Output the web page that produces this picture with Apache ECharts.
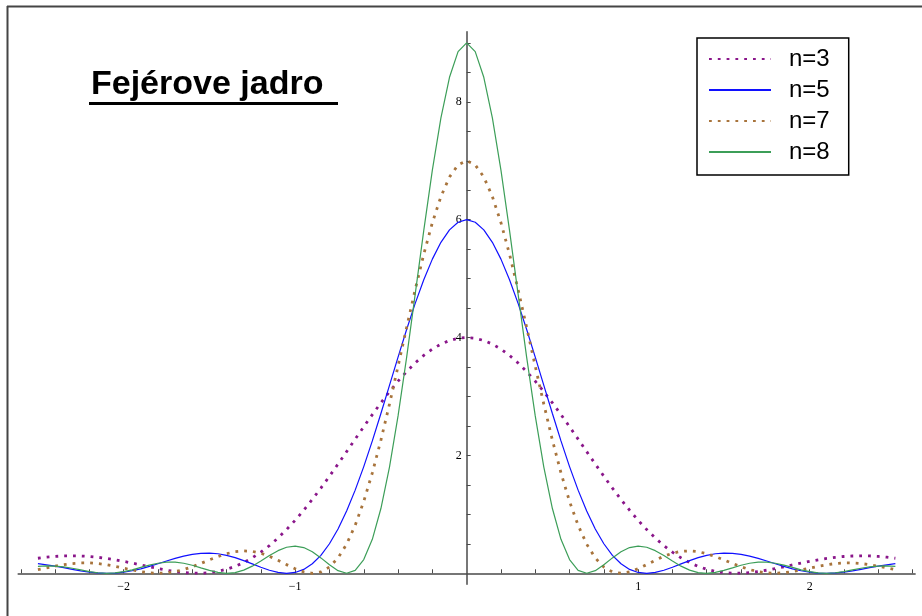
<!DOCTYPE html>
<html>
<head>
<meta charset="utf-8">
<script src="https://cdn.jsdelivr.net/npm/echarts@6/dist/echarts.min.js"></script>
<style>html,body{margin:0;padding:0;background:#fff;}#c{width:922px;height:616px;}</style>
</head>
<body>
<div id="c"></div>
<script>
// x sample positions
const xs = [-2.5,-2.45,-2.4,-2.35,-2.3,-2.25,-2.2,-2.15,-2.1,-2.05,-2,-1.95,-1.9,-1.85,-1.8,-1.75,-1.7,-1.65,-1.6,-1.55,-1.5,-1.45,-1.4,-1.35,-1.3,-1.25,-1.2,-1.15,-1.1,-1.05,-1,-0.95,-0.9,-0.85,-0.8,-0.75,-0.7,-0.65,-0.6,-0.55,-0.5,-0.45,-0.4,-0.35,-0.3,-0.25,-0.2,-0.15,-0.1,-0.05,0,0.05,0.1,0.15,0.2,0.25,0.3,0.35,0.4,0.45,0.5,0.55,0.6,0.65,0.7,0.75,0.8,0.85,0.9,0.95,1,1.05,1.1,1.15,1.2,1.25,1.3,1.35,1.4,1.45,1.5,1.55,1.6,1.65,1.7,1.75,1.8,1.85,1.9,1.95,2,2.05,2.1,2.15,2.2,2.25,2.3,2.35,2.4,2.45,2.5];

const n3 = [0.255,0.273,0.286,0.294,0.296,0.293,0.285,0.271,0.252,0.229,0.202,0.173,0.142,0.110,0.080,0.052,0.029,0.012,0.002,0.001,0.011,0.033,0.068,0.117,0.181,0.262,0.358,0.470,0.598,0.742,0.899,1.070,1.253,1.446,1.647,1.854,2.065,2.277,2.487,2.693,2.892,3.082,3.260,3.423,3.569,3.697,3.804,3.889,3.950,3.988,4.000,3.988,3.950,3.889,3.804,3.697,3.569,3.423,3.260,3.082,2.892,2.693,2.487,2.277,2.065,1.854,1.647,1.446,1.253,1.070,0.899,0.742,0.598,0.470,0.358,0.262,0.181,0.117,0.068,0.033,0.011,0.001,0.002,0.012,0.029,0.052,0.080,0.110,0.142,0.173,0.202,0.229,0.252,0.271,0.285,0.293,0.296,0.294,0.286,0.273,0.255];

const n5 = [0.163,0.144,0.121,0.095,0.067,0.042,0.020,0.006,0.000,0.004,0.018,0.043,0.076,0.117,0.162,0.209,0.253,0.292,0.321,0.339,0.343,0.331,0.305,0.265,0.215,0.159,0.102,0.052,0.015,0.000,0.014,0.066,0.161,0.305,0.501,0.752,1.056,1.411,1.810,2.246,2.712,3.188,3.668,4.137,4.580,4.982,5.331,5.616,5.827,5.956,6.000,5.956,5.827,5.616,5.331,4.982,4.580,4.137,3.668,3.188,2.712,2.246,1.810,1.411,1.056,0.752,0.501,0.305,0.161,0.066,0.014,0.000,0.015,0.052,0.102,0.159,0.215,0.265,0.305,0.331,0.343,0.339,0.321,0.292,0.253,0.209,0.162,0.117,0.076,0.043,0.018,0.004,0.000,0.006,0.020,0.042,0.067,0.095,0.121,0.144,0.163];

const n7 = [0.062,0.091,0.120,0.146,0.165,0.175,0.176,0.165,0.145,0.118,0.087,0.056,0.028,0.008,0.000,0.006,0.027,0.063,0.111,0.167,0.227,0.284,0.332,0.366,0.380,0.372,0.340,0.289,0.221,0.147,0.077,0.023,0.000,0.023,0.106,0.260,0.494,0.814,1.219,1.704,2.260,2.870,3.515,4.171,4.813,5.414,5.949,6.392,6.724,6.930,7.000,6.930,6.724,6.392,5.949,5.414,4.813,4.171,3.515,2.870,2.260,1.704,1.219,0.814,0.494,0.260,0.106,0.023,0.000,0.023,0.077,0.147,0.221,0.289,0.340,0.372,0.380,0.366,0.332,0.284,0.227,0.167,0.111,0.063,0.027,0.006,0.000,0.008,0.028,0.056,0.087,0.118,0.145,0.165,0.176,0.175,0.165,0.146,0.120,0.091,0.062];

const n8 = [0.116,0.125,0.123,0.109,0.085,0.057,0.029,0.009,0.000,0.006,0.027,0.059,0.099,0.138,0.170,0.189,0.189,0.170,0.136,0.092,0.049,0.015,0.000,0.012,0.053,0.121,0.208,0.301,0.384,0.442,0.462,0.436,0.365,0.261,0.144,0.044,0.000,0.050,0.232,0.576,1.099,1.803,2.670,3.665,4.737,5.819,6.841,7.728,8.416,8.851,9.000,8.851,8.416,7.728,6.841,5.819,4.737,3.665,2.670,1.803,1.099,0.576,0.232,0.050,0.000,0.044,0.144,0.261,0.365,0.436,0.462,0.442,0.384,0.301,0.208,0.121,0.053,0.012,0.000,0.015,0.049,0.092,0.136,0.170,0.189,0.189,0.170,0.138,0.099,0.059,0.027,0.006,0.000,0.009,0.029,0.057,0.085,0.109,0.123,0.125,0.116];

const seriesNames = ['n=3','n=5','n=7','n=8'];

// axis ticks and labels
const xTicks = [-2.6,-2.4,-2.2,-2,-1.8,-1.6,-1.4,-1.2,-1,-0.8,-0.6,-0.4,-0.2,0.2,0.4,0.6,0.8,1,1.2,1.4,1.6,1.8,2,2.2,2.4,2.6];
const xTickLabels = [-2,-1,1,2];
const yTicks = [0.5,1,1.5,2,2.5,3,3.5,4,4.5,5,5.5,6,6.5,7,7.5,8,8.5,9];
const yTickLabels = [2,4,6,8];

const titleText = 'Fejérove jadro';

const chart = echarts.init(document.getElementById('c'), null, {renderer:'canvas'});

const pairs = arr => xs.map((x, i) => [x, arr[i]]);
const axisCol = '#4a4a4a';
const labelFont = {fontFamily:'Liberation Serif', fontSize:12, color:'#000'};

const xMin = -2.615, xMax = 2.615, yMin = -0.187, yMax = 9.19;
const gridL = 18.2, gridR = 6.9, gridT = 31.7, gridB = 31.7;
const plotW = 922 - gridL - gridR, plotH = 616 - gridT - gridB;
// place axes through the origin with an offset computed from the axis ranges
const yAxisOffset = -plotW * (0 - xMin) / (xMax - xMin);
const xAxisOffset = -plotH * (0 - yMin) / (yMax - yMin);

chart.setOption({
  animation: false,
  backgroundColor: '#fff',
  title: {
    text: titleText, left: 91, top: 68, padding: 0,
    textStyle: {fontFamily:'Liberation Sans', fontSize:34, fontWeight:'bold', color:'#000'}
  },
  legend: {
    data: seriesNames,
    orient: 'vertical', left: 697, top: 38,
    padding: [9, 19, 11, 11],
    borderColor: '#000', borderWidth: 1.5,
    itemWidth: 62, itemHeight: 14, itemGap: 7,
    selectedMode: false,
    itemStyle: {color: 'rgba(0,0,0,0)', borderWidth: 0, opacity: 0},
    textStyle: {fontFamily:'Liberation Sans', fontSize:24, lineHeight:24, color:'#000', padding:[0,0,0,13]}
  },
  grid: {left: gridL, right: gridR, top: gridT, bottom: gridB, containLabel: false},
  xAxis: {
    type: 'value', min: xMin, max: xMax, position: 'bottom', offset: xAxisOffset,
    axisLine: {onZero: false, lineStyle: {color: axisCol, width: 1.5}},
    axisTick: {show: true, inside: true, length: 4, customValues: xTicks, lineStyle:{color: axisCol}},
    axisLabel: Object.assign({customValues: xTickLabels, margin: 8,
      formatter: v => String(v).replace('-', '\u2212')}, labelFont),
    splitLine: {show: false}
  },
  yAxis: {
    type: 'value', min: yMin, max: yMax, position: 'left', offset: yAxisOffset,
    axisLine: {onZero: false, lineStyle: {color: axisCol, width: 1.5}},
    axisTick: {show: true, inside: true, length: 4, customValues: yTicks, lineStyle:{color: axisCol}},
    axisLabel: Object.assign({customValues: yTickLabels, margin: 5}, labelFont),
    splitLine: {show: false}
  },
  series: [
    {name: 'n=3', type: 'line', data: pairs(n3), symbol: 'none', z: 2,
     lineStyle: {color: '#8a168a', width: 2.8, type: [2.8, 6], cap: 'butt'}},
    {name: 'n=5', type: 'line', data: pairs(n5), symbol: 'none', z: 3,
     lineStyle: {color: '#1010ff', width: 1.2}},
    {name: 'n=7', type: 'line', data: pairs(n7), symbol: 'none', z: 4,
     lineStyle: {color: '#a8743c', width: 2.8, type: [2.8, 6], cap: 'butt'}},
    {name: 'n=8', type: 'line', data: pairs(n8), symbol: 'none', z: 5,
     lineStyle: {color: '#3c9e58', width: 1.2}}
  ],
  graphic: [
    {type: 'line', shape: {x1: 7, y1: 6.5, x2: 922, y2: 6.5}, style: {stroke: '#454545', lineWidth: 2}},
    {type: 'line', shape: {x1: 7.5, y1: 6, x2: 7.5, y2: 616}, style: {stroke: '#454545', lineWidth: 2}},
    {type: 'rect', shape: {x: 89, y: 102, width: 249, height: 3}, style: {fill: '#000'}}
  ]
});
</script>
</body>
</html>
